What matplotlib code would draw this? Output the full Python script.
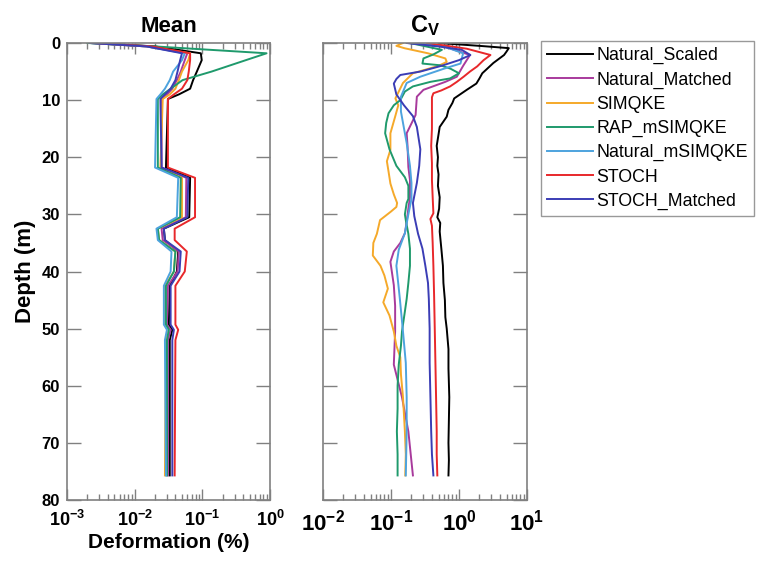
import matplotlib
matplotlib.use("Agg")
import matplotlib.pyplot as plt
import matplotlib.ticker as ticker
import numpy as np

plt.rcParams['font.family'] = ['Liberation Sans', 'DejaVu Sans']
plt.rcParams['mathtext.fontset'] = 'custom'
plt.rcParams['mathtext.rm'] = 'Liberation Sans:bold'
plt.rcParams['mathtext.it'] = 'Liberation Sans:bold'
plt.rcParams['mathtext.bf'] = 'Liberation Sans:bold'

labels = ['Natural_Scaled', 'Natural_Matched', 'SIMQKE', 'RAP_mSIMQKE',
          'Natural_mSIMQKE', 'STOCH', 'STOCH_Matched']
colors = ['#000000', '#a83a9c', '#f5a92a', '#1f9a6c', '#4da3de', '#e8282b', '#3b3db5']

# ---- Mean deformation (%) vs depth (m) ----
mean_depth = [0, 0.6, 1.8, 3, 5, 6.5, 8, 9, 9.8, 21.8, 23.6, 30.5, 32.5, 34.5,
              36.5, 40, 42.5, 49.3, 50.2, 52, 75.7]
mean_vals = {
    'Natural_Scaled':  [0.0025, 0.02, 0.095, 0.098, 0.083, 0.073, 0.066, 0.045, 0.031, 0.029, 0.066,
                        0.064, 0.027, 0.028, 0.044, 0.042, 0.033, 0.032, 0.036, 0.033, 0.033],
    'Natural_Matched': [0.0022, 0.015, 0.06, 0.055, 0.048, 0.042, 0.036, 0.030, 0.025, 0.025, 0.058,
                        0.057, 0.025, 0.026, 0.045, 0.043, 0.031, 0.030, 0.034, 0.031, 0.031],
    'SIMQKE':          [0.0022, 0.015, 0.066, 0.062, 0.050, 0.045, 0.040, 0.033, 0.026, 0.024, 0.050,
                        0.050, 0.022, 0.023, 0.040, 0.038, 0.028, 0.028, 0.031, 0.029, 0.028],
    'RAP_mSIMQKE':     [0.002, 0.02, 0.89, 0.44, 0.137, 0.051, 0.034, 0.026, 0.022, 0.022, 0.048,
                        0.047, 0.022, 0.023, 0.040, 0.038, 0.029, 0.029, 0.032, 0.030, 0.030],
    'Natural_mSIMQKE': [0.0022, 0.015, 0.055, 0.050, 0.037, 0.033, 0.028, 0.024, 0.021, 0.020, 0.044,
                        0.042, 0.021, 0.022, 0.035, 0.034, 0.027, 0.027, 0.030, 0.028, 0.029],
    'STOCH':           [0.0025, 0.018, 0.066, 0.066, 0.063, 0.060, 0.050, 0.038, 0.031, 0.031, 0.078,
                        0.078, 0.039, 0.039, 0.059, 0.055, 0.040, 0.040, 0.044, 0.040, 0.039],
    'STOCH_Matched':   [0.0022, 0.015, 0.05, 0.047, 0.043, 0.040, 0.034, 0.028, 0.024, 0.025, 0.062,
                        0.060, 0.027, 0.028, 0.048, 0.046, 0.034, 0.034, 0.038, 0.036, 0.036],
}

# ---- Coefficient of variation vs depth ----
cv_data = {
    'Natural_Scaled': (
        [0, 0.5, 0.9, 1.5, 2.1, 3.5, 4.5, 5.3, 6.2, 7.1, 8.2, 9.7, 10.5, 11.7, 12.9, 14.7, 16, 18, 20,
         21.5, 23, 25, 27, 29, 30.5, 31.5, 33, 36, 39, 42, 45, 48, 50, 53.6, 57, 62, 66, 70, 73, 75.7],
        [0.5, 2.0, 5.4, 5.0, 4.6, 3.2, 2.6, 2.2, 2.0, 1.8, 1.3, 0.85, 0.80, 0.70, 0.66, 0.52, 0.50,
         0.47, 0.49, 0.48, 0.50, 0.49, 0.52, 0.51, 0.48, 0.53, 0.52, 0.55, 0.58, 0.59, 0.62, 0.63,
         0.66, 0.70, 0.70, 0.72, 0.71, 0.70, 0.71, 0.70]),
    'Natural_Matched': (
        [0, 0.6, 2.1, 4, 5.9, 6.8, 8.2, 9.4, 12.6, 15.8, 18, 21.7, 24, 27, 29, 31.3, 33.3, 35, 36.5,
         38.3, 42.4, 46, 50.5, 56.3, 62, 68, 72, 75.7],
        [0.18, 0.6, 1.45, 1.15, 0.93, 0.63, 0.30, 0.24, 0.23, 0.17, 0.175, 0.18, 0.19, 0.19, 0.18,
         0.17, 0.16, 0.137, 0.11, 0.098, 0.11, 0.115, 0.115, 0.11, 0.145, 0.18, 0.195, 0.21]),
    'SIMQKE': (
        [0, 0.5, 0.93, 1.8, 2.7, 3.3, 4, 5.3, 7, 8.5, 9.7, 10.9, 12.9, 15.8, 18.7, 20.7, 22.5, 24.6,
         26.5, 28, 28.7, 29.5, 31, 33.4, 35, 37.2, 39, 40.7, 43, 45.4, 47.7, 50.5, 53, 55, 58, 62, 65,
         68, 72, 75.7],
        [0.15, 0.12, 0.16, 0.35, 0.63, 0.66, 0.5, 0.21, 0.15, 0.13, 0.116, 0.128, 0.115, 0.098, 0.098,
         0.087, 0.092, 0.098, 0.11, 0.123, 0.12, 0.1, 0.069, 0.062, 0.055, 0.054, 0.07, 0.08, 0.09,
         0.077, 0.095, 0.11, 0.12, 0.137, 0.14, 0.15, 0.155, 0.16, 0.165, 0.162]),
    'RAP_mSIMQKE': (
        [0, 0.5, 1.2, 2, 2.7, 3.6, 3.9, 4.5, 5.3, 6.2, 6.8, 7.6, 8.5, 10, 10.9, 12.3, 14, 15.8, 18.6,
         21.5, 23.5, 25, 27.3, 28, 30, 31, 33.4, 36, 39, 42, 44.8, 47, 50.5, 53, 56.3, 60, 64, 68, 72,
         75.7],
        [0.19, 0.3, 0.56, 0.42, 0.30, 0.29, 0.53, 0.75, 1.0, 0.74, 0.38, 0.21, 0.16, 0.137, 0.11,
         0.092, 0.085, 0.082, 0.095, 0.12, 0.16, 0.18, 0.18, 0.17, 0.16, 0.165, 0.18, 0.19, 0.19, 0.18,
         0.17, 0.16, 0.145, 0.14, 0.13, 0.125, 0.125, 0.122, 0.125, 0.125]),
    'Natural_mSIMQKE': (
        [0, 0.6, 1.8, 3.6, 4.5, 5.9, 7, 9.4, 12, 15.8, 17.5, 21.5, 24.5, 27.3, 30, 33.3, 36.2, 39,
         44.8, 50.5, 56, 62, 68, 75.7],
        [0.2, 0.6, 1.15, 1.05, 0.6, 0.27, 0.17, 0.14, 0.14, 0.16, 0.17, 0.19, 0.20, 0.20, 0.18, 0.16,
         0.13, 0.12, 0.135, 0.15, 0.165, 0.17, 0.17, 0.165]),
    'STOCH': (
        [0, 1, 2.1, 3, 4.1, 5, 5.9, 6.8, 7.6, 8.3, 8.8, 9.5, 12, 15, 18, 21, 24, 27, 29.8, 30.8, 32,
         35, 39, 44, 50, 56, 62, 68, 72, 75.7],
        [0.34, 1.3, 2.9, 2.3, 1.85, 1.45, 1.17, 0.93, 0.74, 0.55, 0.42, 0.40, 0.40, 0.40, 0.39, 0.40,
         0.40, 0.41, 0.42, 0.38, 0.40, 0.41, 0.42, 0.43, 0.44, 0.45, 0.46, 0.47, 0.47, 0.48]),
    'STOCH_Matched': (
        [0, 0.6, 1.2, 2.1, 3, 4, 5, 5.6, 6.3, 7.1, 9, 10.9, 12.8, 14.7, 18.6, 21.5, 24.5, 28, 30.3,
         33.4, 36, 39, 42, 44.8, 50, 56, 62, 68, 72, 75.7],
        [0.17, 0.5, 1.1, 1.47, 1.0, 0.55, 0.27, 0.137, 0.12, 0.11, 0.12, 0.155, 0.21, 0.24, 0.27,
         0.26, 0.24, 0.21, 0.22, 0.25, 0.29, 0.32, 0.35, 0.36, 0.37, 0.37, 0.38, 0.39, 0.40, 0.42]),
}

fig = plt.figure(figsize=(7.6, 5.63), dpi=100)
ax1 = fig.add_axes([67 / 760, 1 - 500 / 563, 203 / 760, 457 / 563])
ax2 = fig.add_axes([323 / 760, 1 - 500 / 563, 204 / 760, 457 / 563])

lines = []
for name, col in zip(labels, colors):
    ln, = ax1.plot(mean_vals[name], mean_depth, color=col, lw=1.4)
    lines.append(ln)
    d, v = cv_data[name]
    ax2.plot(v, d, color=col, lw=1.4)


def pow10(val, pos):
    return r'$\mathbf{10^{%d}}$' % int(round(np.log10(val)))


spine_col = '#808080'
for ax, xl in ((ax1, (1e-3, 1)), (ax2, (1e-2, 10))):
    ax.set_xscale('log')
    ax.set_xlim(*xl)
    ax.set_ylim(80, 0)
    ax.set_yticks(np.arange(0, 81, 10))
    ax.xaxis.set_major_formatter(ticker.FuncFormatter(pow10))
    ax.tick_params(which='both', direction='in', top=True, right=True, colors=spine_col,
                   labelcolor='black')
    ax.tick_params(which='major', length=8, width=1)
    ax.tick_params(which='minor', length=4, width=1)
    ax.tick_params(axis='y', which='major', length=10)
    for s in ax.spines.values():
        s.set_color(spine_col)
        s.set_linewidth(1.2)

ax1.tick_params(axis='x', labelsize=13, pad=7)
ax1.tick_params(axis='y', labelsize=12, pad=5)
for t in ax1.get_yticklabels():
    t.set_fontweight('bold')
ax2.tick_params(axis='x', labelsize=16, pad=7)
ax2.tick_params(axis='y', labelleft=False)

ax1.set_title('Mean', fontsize=16, fontweight='bold', pad=8)
ax2.set_title(r'$\mathbf{C_V}$', fontsize=17, pad=8)
ax1.set_ylabel('Depth (m)', fontsize=16, fontweight='bold', labelpad=4)
ax1.set_xlabel('Deformation (%)', fontsize=15, fontweight='bold', labelpad=2)

fig.legend(lines, labels, loc='upper left', bbox_to_anchor=(541 / 760, 1 - 41 / 563),
           fontsize=12.8, frameon=True, fancybox=False, edgecolor=spine_col,
           handlelength=2.55, handletextpad=0.2, labelspacing=0.4, borderaxespad=0,
           borderpad=0.35)

fig.savefig('out.png', dpi=100)
